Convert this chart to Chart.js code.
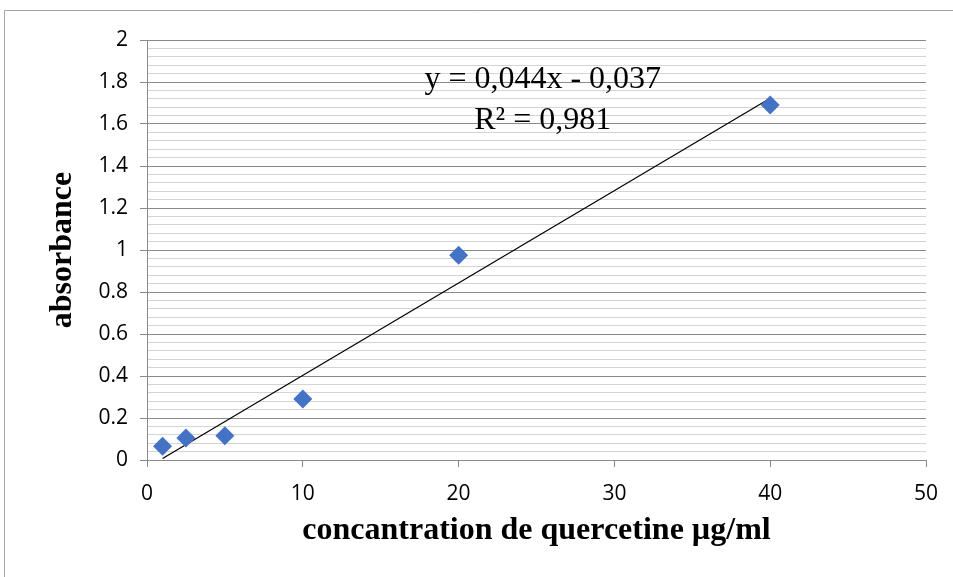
<!DOCTYPE html>
<html>
<head>
<meta charset="utf-8">
<script src="https://cdn.jsdelivr.net/npm/chart.js@4.4.1/dist/chart.umd.min.js"></script>
<style>
  html, body { margin: 0; padding: 0; background: #fff; }
  #wrap { position: relative; width: 953px; height: 577px; }
</style>
</head>
<body>
<div id="wrap"><canvas id="myChart" width="953" height="577"></canvas></div>
<script>
// data
const concentrations = [1, 2.5, 5, 10, 20, 40];
const absorbances = [0.065, 0.105, 0.115, 0.29, 0.975, 1.69];

// trendline (from the equation shown on the chart)
const slope = 0.044;
const intercept = -0.037;
const equationLines = ["y = 0,044x - 0,037", "R\u00b2 = 0,981"];

// ticks
const xTicks = [0, 10, 20, 30, 40, 50];
const yTicks = [0, 0.2, 0.4, 0.6, 0.8, 1, 1.2, 1.4, 1.6, 1.8, 2];
const yMinorStep = 0.04;

// colors
const markerColor = "#4472c4";
const majorGrid = "#8a8a8a";
const minorGrid = "#d4d4d4";

function isMajor(v) {
    return yTicks.some(t => Math.abs(t - v) < 1e-6);
}

const xMin = Math.min(...concentrations);
const xMax = Math.max(...concentrations);
const trendData = [
    { x: xMin, y: slope * xMin + intercept },
    { x: xMax, y: slope * xMax + intercept }
];

// outer frame + equation text
const extras = {
    id: 'extras',
    beforeDraw(chart) {
        const ctx = chart.ctx;
        ctx.save();
        ctx.strokeStyle = "#a6a6a6";
        ctx.lineWidth = 1;
        ctx.beginPath();
        ctx.moveTo(4.5, 577);
        ctx.lineTo(4.5, 10.5);
        ctx.lineTo(953, 10.5);
        ctx.stroke();
        ctx.restore();
    },
    afterDraw(chart) {
        const ctx = chart.ctx;
        const x = chart.scales.x.getPixelForValue(25.4);
        const y = chart.scales.y.getPixelForValue(1.81);
        ctx.save();
        ctx.fillStyle = "#000";
        ctx.font = "32px 'Liberation Serif', 'Times New Roman', serif";
        ctx.textAlign = "center";
        ctx.textBaseline = "middle";
        ctx.fillText(equationLines[0], x, y);
        ctx.fillText(equationLines[1], x, y + 41);
        ctx.restore();
    }
};

const tickFont = { family: "'Open Sans', sans-serif", size: 21 };
const titleFont = { family: "'Liberation Serif', 'Times New Roman', serif", size: 32, weight: 'bold' };

new Chart(document.getElementById('myChart'), {
    type: 'scatter',
    data: {
        datasets: [{
            label: 'absorbance',
            data: concentrations.map((c, i) => ({ x: c, y: absorbances[i] })),
            pointStyle: 'rectRot',
            pointRadius: 9.5,
            pointHoverRadius: 9.5,
            backgroundColor: markerColor,
            borderColor: markerColor,
            borderWidth: 0,
            order: 1
        }, {
            label: 'trend',
            type: 'line',
            data: trendData,
            borderColor: "#000",
            borderWidth: 1.2,
            pointRadius: 0,
            fill: false,
            order: 2
        }]
    },
    options: {
        responsive: false,
        animation: false,
        events: [],
        layout: { padding: { left: 0, right: 27, top: 40, bottom: 0 } },
        plugins: {
            legend: { display: false },
            tooltip: { enabled: false }
        },
        scales: {
            x: {
                type: 'linear',
                min: 0,
                max: 50,
                afterBuildTicks: s => { s.ticks = xTicks.map(v => ({ value: v })); },
                afterFit: s => { s.height = 117; },
                ticks: { font: tickFont, color: "#000", padding: 14, maxRotation: 0, autoSkip: false },
                grid: { drawOnChartArea: false, drawTicks: true, tickLength: 7, tickColor: majorGrid },
                border: { color: majorGrid, width: 1 },
                title: {
                    display: true,
                    text: 'concantration de quercetine \u00b5g/ml',
                    font: titleFont,
                    color: "#000",
                    padding: { top: 0, bottom: 27 }
                }
            },
            y: {
                type: 'linear',
                min: 0,
                max: 2,
                afterBuildTicks: s => {
                    const t = [];
                    for (let v = 0; v <= 2 + 1e-9; v += yMinorStep) t.push({ value: Math.round(v * 100) / 100 });
                    s.ticks = t;
                },
                afterFit: s => { s.width = 147; },
                ticks: {
                    font: tickFont,
                    color: "#000",
                    padding: 12,
                    autoSkip: false,
                    callback: v => isMajor(v) ? String(+v.toFixed(1)) : ''
                },
                grid: {
                    drawTicks: true,
                    tickLength: 7,
                    color: c => isMajor(c.tick.value) ? majorGrid : minorGrid,
                    tickColor: c => isMajor(c.tick.value) ? majorGrid : 'rgba(0,0,0,0)'
                },
                border: { color: majorGrid, width: 1 },
                title: {
                    display: true,
                    text: 'absorbance',
                    font: titleFont,
                    color: "#000",
                    padding: { top: 44, bottom: 0 }
                }
            }
        }
    },
    plugins: [extras]
});
</script>
</body>
</html>
